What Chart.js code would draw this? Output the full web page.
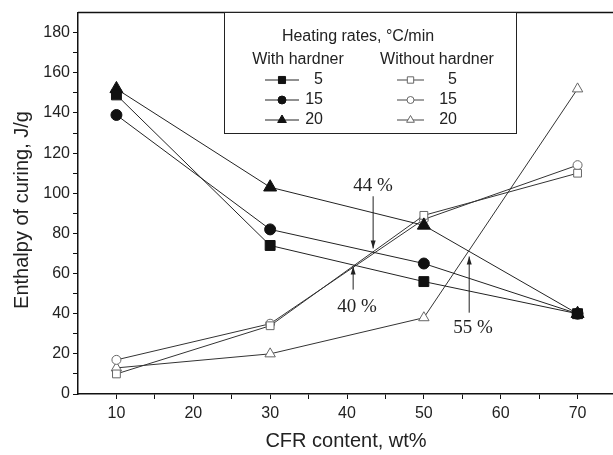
<!DOCTYPE html>
<html>
<head>
<meta charset="utf-8">
<script src="https://cdn.jsdelivr.net/npm/chart.js@4/dist/chart.umd.min.js"></script>
<style>
  html, body { margin: 0; padding: 0; background: #fff; overflow: hidden; }
  #wrap { width: 613px; height: 455px; overflow: hidden; }
</style>
</head>
<body>
<div id="wrap"><canvas id="myChart" width="640" height="455"></canvas></div>
<script>
// CFR content (wt%)
const cfr = [10, 30, 50, 70];

// Enthalpy of curing, J/g
const with5 = [149, 74, 56, 40];
const with15 = [139, 82, 65, 40];
const with20 = [152, 103, 84, 40];
const without5 = [10, 34, 89, 110];
const without15 = [17, 35, 87, 114];
const without20 = [13, 20, 38, 152];

const rates = ['5', '15', '20'];

// crossing point annotations (data units)
const notes = [
    { label: '44 %', x: 43.4, tipY: 72.5, tailY: 98.5, textX: 43.4, textY: 103.5 },
    { label: '40 %', x: 40.8, tipY: 63.5, tailY: 52, textX: 41.3, textY: 43.5 },
    { label: '55 %', x: 55.9, tipY: 68.5, tailY: 40.5, textX: 56.4, textY: 33 }
];

const pts = vals => vals.map((v, i) => ({ x: cfr[i], y: v }));

function makeSet(label, vals, style, radius, filled) {
    return {
        label: label,
        data: pts(vals),
        borderColor: filled ? '#222' : '#333',
        borderWidth: 1,
        pointStyle: style,
        pointRadius: radius,
        pointHoverRadius: radius,
        pointBackgroundColor: filled ? '#111' : '#fff',
        pointBorderColor: filled ? '#111' : '#666',
        pointBorderWidth: 1,
        fill: false,
        tension: 0,
        _filled: filled
    };
}

const datasets = [
    makeSet('5', with5, 'rect', 7, true),
    makeSet('15', with15, 'circle', 5.5, true),
    makeSet('20', with20, 'triangle', 7.5, true),
    makeSet('5', without5, 'rect', 5.5, false),
    makeSet('15', without15, 'circle', 4.5, false),
    makeSet('20', without20, 'triangle', 6, false)
];

function drawMarker(ctx, style, r, x, y, filled) {
    ctx.save();
    ctx.fillStyle = filled ? '#111' : '#fff';
    ctx.strokeStyle = filled ? '#111' : '#666';
    ctx.lineWidth = 1;
    ctx.beginPath();
    if (style === 'rect') {
        const s = r * Math.SQRT1_2;
        ctx.rect(x - s, y - s, 2 * s, 2 * s);
    } else if (style === 'circle') {
        ctx.arc(x, y, r, 0, Math.PI * 2);
    } else {
        const a = r * 0.866;
        ctx.moveTo(x, y - r);
        ctx.lineTo(x + a, y + r / 2);
        ctx.lineTo(x - a, y + r / 2);
        ctx.closePath();
    }
    ctx.fill();
    ctx.stroke();
    ctx.restore();
}

const extras = {
    id: 'extras',
    afterDraw(chart) {
        const ctx = chart.ctx;
        const a = chart.chartArea;
        const xs = chart.scales.x, ys = chart.scales.y;
        ctx.save();

        // top frame line
        ctx.strokeStyle = '#111';
        ctx.lineWidth = 1.5;
        ctx.beginPath();
        ctx.moveTo(a.left, a.top);
        ctx.lineTo(chart.width, a.top);
        ctx.stroke();

        // axis titles
        ctx.fillStyle = '#222';
        ctx.font = '20px "Liberation Sans", Arial, sans-serif';
        ctx.textAlign = 'center';
        ctx.textBaseline = 'middle';
        ctx.fillText('CFR content, wt%', 346, 441);
        ctx.save();
        ctx.translate(22, 210);
        ctx.rotate(-Math.PI / 2);
        ctx.fillText('Enthalpy of curing, J/g', 0, 0);
        ctx.restore();

        // annotations with arrows
        ctx.font = '19px "Liberation Serif", "Times New Roman", serif';
        notes.forEach(n => {
            const px = xs.getPixelForValue(n.x);
            const tip = ys.getPixelForValue(n.tipY);
            const tail = ys.getPixelForValue(n.tailY);
            ctx.strokeStyle = '#222';
            ctx.fillStyle = '#222';
            ctx.lineWidth = 1;
            ctx.beginPath();
            ctx.moveTo(px, tail);
            ctx.lineTo(px, tip);
            ctx.stroke();
            const dir = tip > tail ? 1 : -1;
            ctx.beginPath();
            ctx.moveTo(px, tip);
            ctx.lineTo(px - 2.5, tip - dir * 8);
            ctx.lineTo(px + 2.5, tip - dir * 8);
            ctx.closePath();
            ctx.fill();
            ctx.fillText(n.label, xs.getPixelForValue(n.textX), ys.getPixelForValue(n.textY));
        });

        // legend box
        const bx = 224, by = 12, bw = 292, bh = 121;
        ctx.fillStyle = '#fff';
        ctx.fillRect(bx, by, bw, bh);
        ctx.strokeStyle = '#222';
        ctx.lineWidth = 1;
        ctx.strokeRect(bx + 0.5, by + 0.5, bw, bh);

        ctx.fillStyle = '#222';
        ctx.font = '16px "Liberation Sans", Arial, sans-serif';
        ctx.textAlign = 'center';
        ctx.fillText('Heating rates, \u00B0C/min', 358, 37);
        ctx.fillText('With hardner', 298, 60);
        ctx.fillText('Without hardner', 437, 60);

        const cols = [{ x0: 265, x1: 299, end: 323 }, { x0: 397, x1: 424, end: 457 }];
        chart.data.datasets.forEach((ds, i) => {
            const c = cols[ds._filled ? 0 : 1];
            const row = i % 3;
            const y = 80 + row * 20;
            ctx.strokeStyle = ds._filled ? '#222' : '#444';
            ctx.lineWidth = 1;
            ctx.beginPath();
            ctx.moveTo(c.x0, y);
            ctx.lineTo(c.x1, y);
            ctx.stroke();
            const mr = ds._filled ? (ds.pointStyle === 'circle' ? 4 : 5) : (ds.pointStyle === 'circle' ? 3.5 : 4.5);
            drawMarker(ctx, ds.pointStyle, mr, (c.x0 + c.x1) / 2, y, ds._filled);
            ctx.fillStyle = '#222';
            ctx.textAlign = 'right';
            ctx.fillText(rates[row], c.end, y);
        });
        ctx.restore();
    }
};

const tickFont = { family: '"Liberation Sans", Arial, sans-serif', size: 16 };

const ctx = document.getElementById('myChart').getContext('2d');
const myChart = new Chart(ctx, {
    type: 'line',
    data: { datasets: datasets },
    options: {
        responsive: false,
        animation: false,
        events: [],
        layout: { padding: { top: 10, right: 24, left: 0, bottom: 0 } },
        plugins: {
            legend: { display: false },
            tooltip: { enabled: false }
        },
        scales: {
            x: {
                type: 'linear',
                min: 5,
                max: 75,
                afterFit: s => { s.height = 61; },
                grid: {
                    drawOnChartArea: false,
                    tickLength: 5,
                    tickColor: c => (c.tick && (c.tick.value === 5 || c.tick.value === 75)) ? 'rgba(0,0,0,0)' : '#111'
                },
                border: { color: '#111', width: 1.5 },
                ticks: {
                    stepSize: 5,
                    autoSkip: false,
                    maxRotation: 0,
                    color: '#222',
                    font: tickFont,
                    padding: 5,
                    callback: v => (v % 10 === 0 && v >= 10 && v <= 70) ? v : ''
                }
            },
            y: {
                min: 0,
                max: 190,
                afterFit: s => { s.width = 78; },
                grid: {
                    drawOnChartArea: false,
                    tickLength: 5,
                    tickColor: c => (c.tick && c.tick.value === 190) ? 'rgba(0,0,0,0)' : '#111'
                },
                border: { color: '#111', width: 1.5 },
                ticks: {
                    stepSize: 10,
                    autoSkip: false,
                    color: '#222',
                    font: tickFont,
                    padding: 3,
                    callback: v => (v % 20 === 0 && v <= 180) ? v : ''
                }
            }
        }
    },
    plugins: [extras]
});
</script>
</body>
</html>
